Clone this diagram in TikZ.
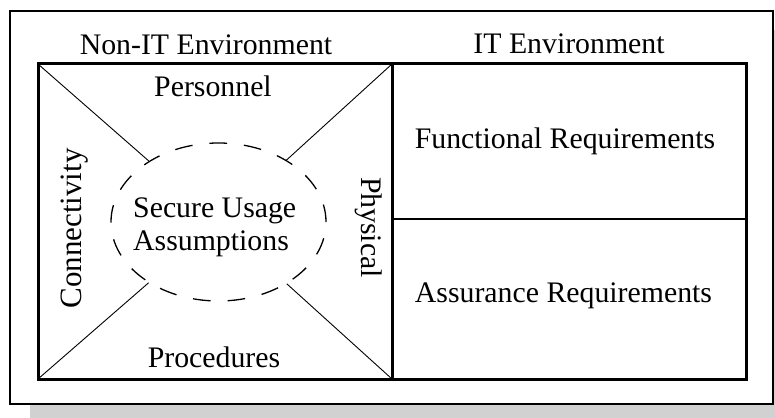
\documentclass[tikz,border=0pt]{standalone}
\usepackage{fontspec}
\setmainfont{Liberation Serif}
\usetikzlibrary{shapes.geometric}
\begin{document}
\begin{tikzpicture}[x=1pt,y=-1pt,
  frame/.style={draw, line width=2.2pt, fill=white},
  panel/.style={draw, line width=3pt, rectangle, inner sep=0pt, outer sep=0pt},
  spoke/.style={line width=0.9pt},
  lbl/.style={inner sep=0pt, font=\fontsize{29.8}{33}\selectfont},
]
\useasboundingbox (0,0) rectangle (775,417);
% drop shadow and outer frame
\fill[black!18] (30,30) rectangle (795,424);
\draw[frame] (10,11) rectangle (773,404);

% the two environment panels
\node[panel, minimum width=354pt, minimum height=315pt] (nonit) at (215,221.5) {};
\node[panel, minimum width=354pt, minimum height=315pt] (itbox) at (569,221.5) {};
\coordinate (divL) at (392,219);
\coordinate (divR) at (746,219);
\draw[line width=2.2pt] (divL) -- (divR);

% central dashed ellipse
\node[ellipse, draw, dash pattern=on 17.7pt off 17pt, line width=1.3pt,
      minimum width=215pt, minimum height=158pt, inner sep=0pt] (ell) at (218.5,222) {};

% spokes from the panel corners to the ellipse
\draw[spoke] (nonit.north west) -- (ell);
\draw[spoke] (nonit.north east) -- (ell);
\draw[spoke] (nonit.south west) -- (ell);
\draw[spoke] (nonit.south east) -- (ell);

% headings
\node[lbl, anchor=base] (hnonit) at (206,55) {Non-IT Environment};
\node[lbl, anchor=base] (hit) at (569,54) {IT Environment};

% labels of the non-IT panel
\node[lbl, anchor=base] (pers) at (213,97) {Personnel};
\node[lbl, anchor=base] (proc) at (214,367) {Procedures};
\node[lbl, anchor=base, rotate=90, font=\fontsize{31}{33}\selectfont] (conn) at (81.5,228.5) {Connectivity};
\node[lbl, anchor=base, rotate=-90] (phys) at (361,227.5) {Physical};
\node[lbl, anchor=base west] (sua1) at (133,217) {Secure Usage};
\node[lbl, anchor=base west] (sua2) at (133,250) {Assumptions};

% labels of the IT panel
\node[lbl, anchor=base] (func) at (565,148) {Functional Requirements};
\node[lbl, anchor=base] (assur) at (563.5,302) {Assurance Requirements};
\end{tikzpicture}
\end{document}
